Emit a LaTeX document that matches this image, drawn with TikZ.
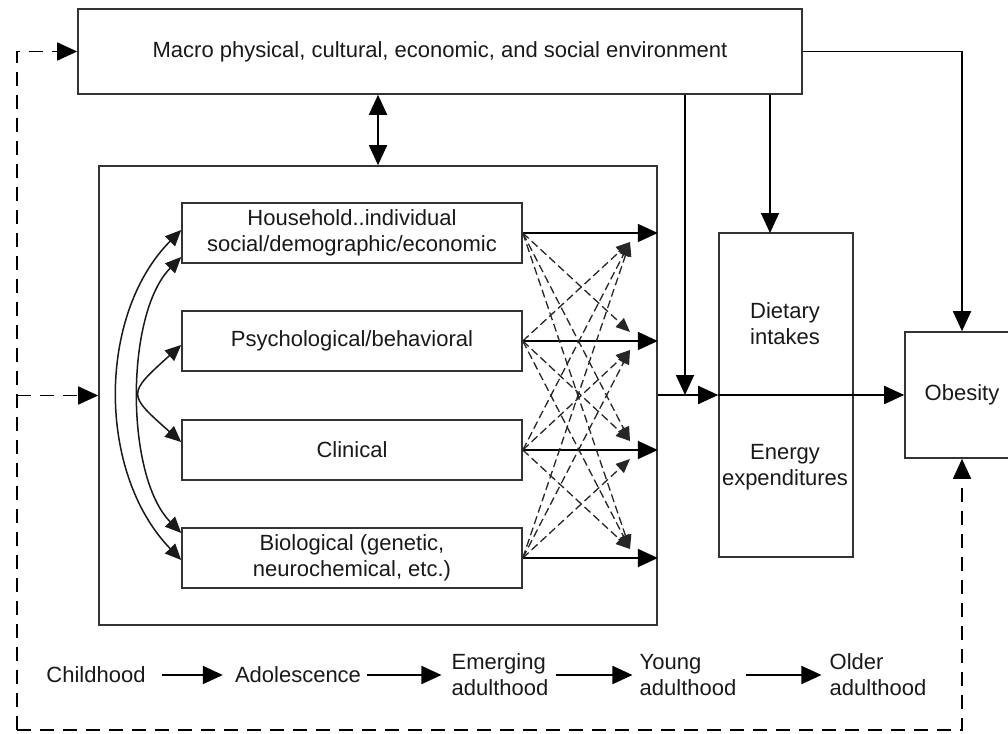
\documentclass[tikz,border=0pt]{standalone}
\usepackage{fontspec}
\setmainfont{Liberation Sans}
\usetikzlibrary{arrows.meta,calc}
\begin{document}
\begin{tikzpicture}[x=1pt,y=-1pt,
  every node/.style={font=\fontsize{22}{26}\selectfont, text=black!90},
  box/.style={draw=black!80, line width=1.6pt, inner sep=0pt, align=center},
  tl/.style={inner sep=0pt, align=left},
  ln/.style={draw=black, line width=1.8pt},
  big/.style={-{Triangle[length=20pt,width=18pt]}},
  dbl/.style={{Triangle[length=20pt,width=18pt]}-{Triangle[length=20pt,width=18pt]}},
  cur/.style={draw=black!90, line width=1.5pt, {Triangle[length=16pt,width=14pt]}-{Triangle[length=16pt,width=14pt]}},
  xd/.style={draw=black!85, line width=1.3pt, dash pattern=on 8pt off 4pt, -{Triangle[length=14pt,width=12pt]}},
  ld/.style={draw=black, line width=1.6pt, dash pattern=on 14pt off 9pt},
]
\useasboundingbox (0,0) rectangle (1008,733);

% boxes
\node[box, minimum width=724pt, minimum height=85pt] (macro) at (440,51.5) {Macro physical, cultural, economic, and social environment};
\node[box, minimum width=558pt, minimum height=459pt] (group) at (378,395.5) {};
\node[box, minimum width=340pt, minimum height=60pt] (b1) at (352,233) {Household..individual\\social/demographic/economic};
\node[box, minimum width=340pt, minimum height=60pt] (b2) at (352,341) {Psychological/behavioral};
\node[box, minimum width=340pt, minimum height=60pt] (b3) at (352,450) {Clinical};
\node[box, minimum width=340pt, minimum height=60pt] (b4) at (352,558) {Biological (genetic,\\neurochemical, etc.)};
\node[box, minimum width=134pt, minimum height=324pt] (diet) at (786,395) {};
\node[align=center, inner sep=0pt] (dtxt) at (785,324) {Dietary\\intakes};
\node[align=center, inner sep=0pt] (etxt) at (785,467) {Energy\\expenditures};
\node[box, minimum width=114pt, minimum height=126pt] (obes) at (962,395) {Obesity};

% timeline
\node[tl] (t1) at (96,675) {Childhood};
\node[tl] (t2) at (298,675) {Adolescence};
\node[tl] (t3) at (500,675) {Emerging\\adulthood};
\node[tl] (t4) at (688,675) {Young\\adulthood};
\node[tl] (t5) at (878,675) {Older\\adulthood};
\draw[ln,big,shorten <=16pt,shorten >=12pt] (t1) -- (t2);
\draw[ln,big,shorten <=6pt,shorten >=10pt] (t2) -- (t3);
\draw[ln,big,shorten <=7pt,shorten >=7pt] (t3) -- (t4);
\draw[ln,big,shorten <=9pt,shorten >=8pt] (t4) -- (t5);

% coordinates
\coordinate (join) at (685,395);
\coordinate (dtop) at (770,233);
\coordinate (tx) at (630,0);
\coordinate (c1) at (17,730);

% macro <-> group
\draw[ln,dbl] (group.north) -- (group.north |- macro.south);
% macro down arrows
\draw[ln,big] (join |- macro.south) -- (join);
\draw[ln,big] (dtop |- macro.south) -- (dtop);
\draw[ln,big] (macro.east) -| (obes.north);

% group -> diet -> obesity
\draw[ln,big] (group.east |- diet.west) -- (diet.west);
\draw[ln] (diet.west) -- (diet.east);
\draw[ln,big] (diet.east) -- (obes.west);

% solid arrows from sub boxes
\foreach \i in {1,...,4}{
  \draw[ln,big] (b\i.east) -- (b\i.east -| group.east);
}
% dashed cross arrows
\foreach \s in {1,...,4}{
  \foreach \t in {1,...,4}{
    \ifnum\s=\t\relax\else
      \ifnum\s<\t\relax\def\off{-9}\else\def\off{9}\fi
      \draw[xd] (b\s.east) -- ($(b\t.east -| tx)+(0,\off)$);
    \fi
  }
}

% curved arrows on left
\coordinate (o1) at ($(b1.west)+(0,-3)$);
\coordinate (o4) at ($(b4.west)+(0,2)$);
\coordinate (i1) at ($(b1.west)+(0,24)$);
\coordinate (i4) at ($(b4.west)+(0,-25)$);
\coordinate (s2) at ($(b2.west)+(0,4)$);
\coordinate (s3) at ($(b3.west)+(0,-8)$);
\draw[cur] (o1) .. controls (97,315) and (97,473) .. (o4);
\draw[cur] (i1) .. controls (125,314) and (125,476) .. (i4);
\draw[cur] (s2) .. controls (127,394) and (127,394) .. (s3);

% dashed feedback loop
\draw[ld,big] (c1) |- (macro.west);
\draw[ld,big] (group.west -| c1) -- (group.west);
\draw[ld,big] (c1) -| (obes.south);
\end{tikzpicture}
\end{document}
